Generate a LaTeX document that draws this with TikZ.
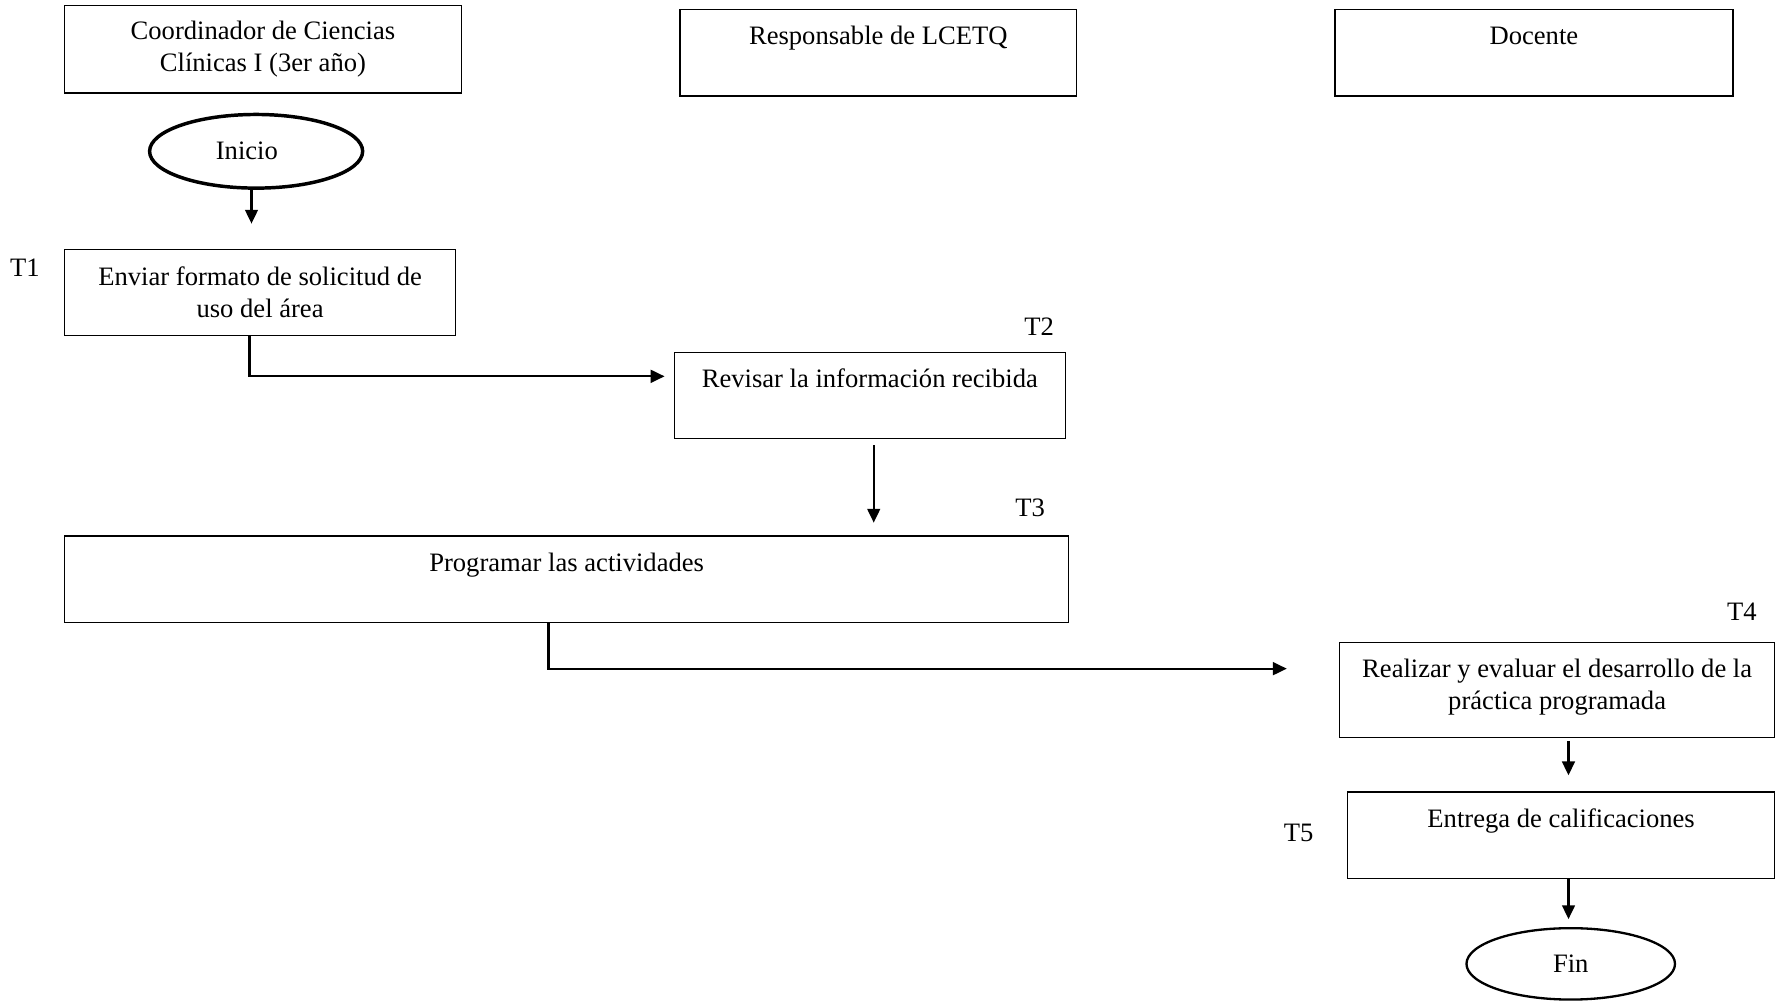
\documentclass[tikz,border=0pt]{standalone}
\usepackage{fontspec}
\setmainfont{Liberation Serif}
\usepackage{tikz}
\usetikzlibrary{shapes.geometric,arrows.meta}

\begin{document}
\begin{tikzpicture}[x=0.49pt, y=-0.49pt,
    font=\fontsize{11.5pt}{13.7pt}\selectfont,
    caja/.style={shape=rectangle, draw, line width=0.6pt, align=center, inner sep=0pt},
    arriba/.style={text height=15.3pt, text depth=22.1pt},
    term/.style={shape=ellipse, draw, inner sep=0pt},
    flecha/.style={line width=1pt, -{Triangle[length=6pt, width=5.5pt]}}]
    \useasboundingbox (0,0) rectangle (1568,887);

    \node[caja, minimum width=350*0.49pt, minimum height=77*0.49pt] (coord) at (232,43.5) {Coordinador de Ciencias\\Clínicas I (3er año)};
    \node[caja, arriba, minimum width=350*0.49pt] (resp) at (775,46.5) {Responsable de LCETQ};
    \node[caja, arriba, minimum width=351*0.49pt] (doc) at (1353.5,46.5) {Docente};

    \node[term, line width=1.5pt, minimum width=188*0.49pt, minimum height=65*0.49pt] (inicio) at (226,133.5) {Inicio\hspace*{8pt}};
    \node[caja, minimum width=345*0.49pt, minimum height=76*0.49pt] (envio) at (229.5,258) {Enviar formato de solicitud de\\uso del área};
    \node[caja, arriba, minimum width=345*0.49pt] (revisar) at (767.5,349) {Revisar la información recibida};
    \node[caja, arriba, minimum width=886*0.49pt] (programar) at (500,511) {Programar las actividades};
    \node[caja, minimum width=384*0.49pt, minimum height=84*0.49pt] (realizar) at (1374,609) {Realizar y evaluar el desarrollo de la\\práctica programada\\[-8.8pt]};
    \node[caja, arriba, minimum width=377*0.49pt] (entrega) at (1377.5,737) {Entrega de calificaciones};
    \node[term, line width=1pt, minimum width=184*0.49pt, minimum height=63*0.49pt] (fin) at (1386,850.5) {Fin};

    \node (t1) at (22,236) {T1};
    \node (t2) at (917,288) {T2};
    \node (t3) at (909,448) {T3};
    \node (t4) at (1537,540) {T4};
    \node (t5) at (1146,735) {T5};

    \draw[flecha, shorten >=10.8pt] ([xshift=-2pt]inicio.south) -- ([xshift=-2pt]inicio.south |- envio.north);
    \draw[flecha, shorten >=3.9pt] ([xshift=-4.6pt]envio.south) |- ([yshift=8.3pt]revisar.west);
    \draw[flecha, shorten <=2.5pt, shorten >=5.4pt] ([xshift=1.7pt]revisar.south) -- ([xshift=1.7pt]revisar.south |- programar.north);
    \draw[flecha, shorten >=22.5pt] ([xshift=-7.8pt]programar.south) |- ([yshift=9.3pt]realizar.west);
    \draw[flecha, shorten <=1pt, shorten >=6.9pt] ([xshift=4.9pt]realizar.south) -- ([xshift=4.9pt]realizar.south |- entrega.north);
    \draw[flecha, shorten >=3.4pt] ([xshift=3.2pt]entrega.south) -- ([xshift=3.2pt]entrega.south |- fin.north);
  \end{tikzpicture}
\end{document}
